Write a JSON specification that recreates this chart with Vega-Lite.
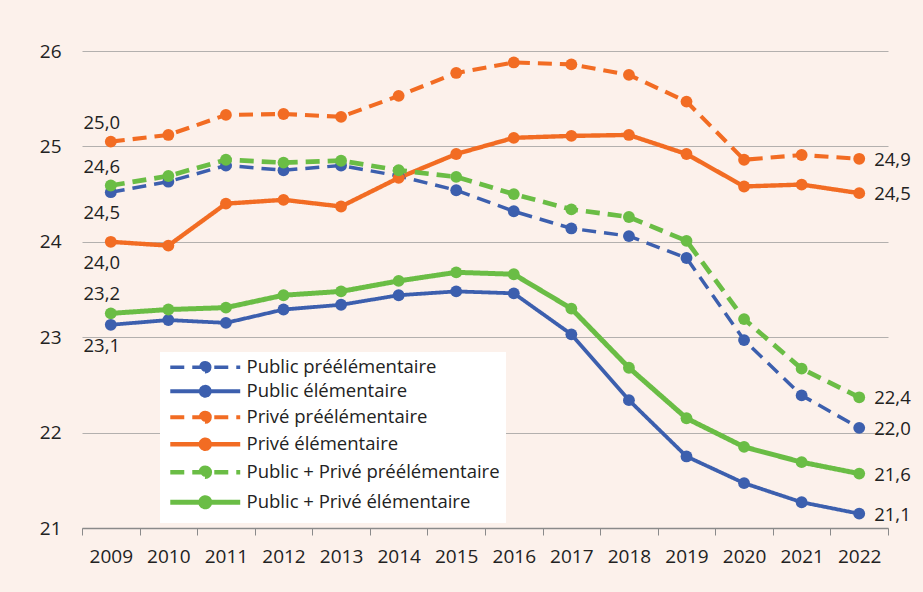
{
  "$schema": "https://vega.github.io/schema/vega-lite/v6.json",
  "width": 806,
  "height": 477,
  "autosize": {"type": "none"},
  "padding": {"left": 82, "top": 51, "right": 35, "bottom": 64},
  "background": "#FCF1EB",
  "config": {
    "view": {"stroke": null},
    "font": "Open Sans",
    "text": {"font": "Open Sans", "fontSize": 18.5, "color": "#222222"}
  },
  "data": {
    "values": [
      {"annee": 2009, "serie": "Public préélémentaire", "valeur": 24.52, "etiquette": "24,5"},
      {"annee": 2010, "serie": "Public préélémentaire", "valeur": 24.63},
      {"annee": 2011, "serie": "Public préélémentaire", "valeur": 24.80},
      {"annee": 2012, "serie": "Public préélémentaire", "valeur": 24.75},
      {"annee": 2013, "serie": "Public préélémentaire", "valeur": 24.80},
      {"annee": 2014, "serie": "Public préélémentaire", "valeur": 24.69},
      {"annee": 2015, "serie": "Public préélémentaire", "valeur": 24.54},
      {"annee": 2016, "serie": "Public préélémentaire", "valeur": 24.32},
      {"annee": 2017, "serie": "Public préélémentaire", "valeur": 24.14},
      {"annee": 2018, "serie": "Public préélémentaire", "valeur": 24.06},
      {"annee": 2019, "serie": "Public préélémentaire", "valeur": 23.83},
      {"annee": 2020, "serie": "Public préélémentaire", "valeur": 22.97},
      {"annee": 2021, "serie": "Public préélémentaire", "valeur": 22.39},
      {"annee": 2022, "serie": "Public préélémentaire", "valeur": 22.05, "etiquette": "22,0"},
      {"annee": 2009, "serie": "Public élémentaire", "valeur": 23.13, "etiquette": "23,1"},
      {"annee": 2010, "serie": "Public élémentaire", "valeur": 23.18},
      {"annee": 2011, "serie": "Public élémentaire", "valeur": 23.15},
      {"annee": 2012, "serie": "Public élémentaire", "valeur": 23.29},
      {"annee": 2013, "serie": "Public élémentaire", "valeur": 23.34},
      {"annee": 2014, "serie": "Public élémentaire", "valeur": 23.44},
      {"annee": 2015, "serie": "Public élémentaire", "valeur": 23.48},
      {"annee": 2016, "serie": "Public élémentaire", "valeur": 23.46},
      {"annee": 2017, "serie": "Public élémentaire", "valeur": 23.03},
      {"annee": 2018, "serie": "Public élémentaire", "valeur": 22.34},
      {"annee": 2019, "serie": "Public élémentaire", "valeur": 21.75},
      {"annee": 2020, "serie": "Public élémentaire", "valeur": 21.47},
      {"annee": 2021, "serie": "Public élémentaire", "valeur": 21.27},
      {"annee": 2022, "serie": "Public élémentaire", "valeur": 21.15, "etiquette": "21,1"},
      {"annee": 2009, "serie": "Privé préélémentaire", "valeur": 25.05, "etiquette": "25,0"},
      {"annee": 2010, "serie": "Privé préélémentaire", "valeur": 25.12},
      {"annee": 2011, "serie": "Privé préélémentaire", "valeur": 25.33},
      {"annee": 2012, "serie": "Privé préélémentaire", "valeur": 25.34},
      {"annee": 2013, "serie": "Privé préélémentaire", "valeur": 25.31},
      {"annee": 2014, "serie": "Privé préélémentaire", "valeur": 25.53},
      {"annee": 2015, "serie": "Privé préélémentaire", "valeur": 25.77},
      {"annee": 2016, "serie": "Privé préélémentaire", "valeur": 25.88},
      {"annee": 2017, "serie": "Privé préélémentaire", "valeur": 25.86},
      {"annee": 2018, "serie": "Privé préélémentaire", "valeur": 25.75},
      {"annee": 2019, "serie": "Privé préélémentaire", "valeur": 25.47},
      {"annee": 2020, "serie": "Privé préélémentaire", "valeur": 24.86},
      {"annee": 2021, "serie": "Privé préélémentaire", "valeur": 24.91},
      {"annee": 2022, "serie": "Privé préélémentaire", "valeur": 24.87, "etiquette": "24,9"},
      {"annee": 2009, "serie": "Privé élémentaire", "valeur": 24.00, "etiquette": "24,0"},
      {"annee": 2010, "serie": "Privé élémentaire", "valeur": 23.96},
      {"annee": 2011, "serie": "Privé élémentaire", "valeur": 24.40},
      {"annee": 2012, "serie": "Privé élémentaire", "valeur": 24.44},
      {"annee": 2013, "serie": "Privé élémentaire", "valeur": 24.37},
      {"annee": 2014, "serie": "Privé élémentaire", "valeur": 24.67},
      {"annee": 2015, "serie": "Privé élémentaire", "valeur": 24.92},
      {"annee": 2016, "serie": "Privé élémentaire", "valeur": 25.09},
      {"annee": 2017, "serie": "Privé élémentaire", "valeur": 25.11},
      {"annee": 2018, "serie": "Privé élémentaire", "valeur": 25.12},
      {"annee": 2019, "serie": "Privé élémentaire", "valeur": 24.92},
      {"annee": 2020, "serie": "Privé élémentaire", "valeur": 24.58},
      {"annee": 2021, "serie": "Privé élémentaire", "valeur": 24.60},
      {"annee": 2022, "serie": "Privé élémentaire", "valeur": 24.51, "etiquette": "24,5"},
      {"annee": 2009, "serie": "Public + Privé préélémentaire", "valeur": 24.59, "etiquette": "24,6"},
      {"annee": 2010, "serie": "Public + Privé préélémentaire", "valeur": 24.69},
      {"annee": 2011, "serie": "Public + Privé préélémentaire", "valeur": 24.86},
      {"annee": 2012, "serie": "Public + Privé préélémentaire", "valeur": 24.83},
      {"annee": 2013, "serie": "Public + Privé préélémentaire", "valeur": 24.85},
      {"annee": 2014, "serie": "Public + Privé préélémentaire", "valeur": 24.75},
      {"annee": 2015, "serie": "Public + Privé préélémentaire", "valeur": 24.68},
      {"annee": 2016, "serie": "Public + Privé préélémentaire", "valeur": 24.50},
      {"annee": 2017, "serie": "Public + Privé préélémentaire", "valeur": 24.34},
      {"annee": 2018, "serie": "Public + Privé préélémentaire", "valeur": 24.26},
      {"annee": 2019, "serie": "Public + Privé préélémentaire", "valeur": 24.01},
      {"annee": 2020, "serie": "Public + Privé préélémentaire", "valeur": 23.19},
      {"annee": 2021, "serie": "Public + Privé préélémentaire", "valeur": 22.67},
      {"annee": 2022, "serie": "Public + Privé préélémentaire", "valeur": 22.37, "etiquette": "22,4"},
      {"annee": 2009, "serie": "Public + Privé élémentaire", "valeur": 23.25, "etiquette": "23,2"},
      {"annee": 2010, "serie": "Public + Privé élémentaire", "valeur": 23.29},
      {"annee": 2011, "serie": "Public + Privé élémentaire", "valeur": 23.31},
      {"annee": 2012, "serie": "Public + Privé élémentaire", "valeur": 23.44},
      {"annee": 2013, "serie": "Public + Privé élémentaire", "valeur": 23.48},
      {"annee": 2014, "serie": "Public + Privé élémentaire", "valeur": 23.59},
      {"annee": 2015, "serie": "Public + Privé élémentaire", "valeur": 23.68},
      {"annee": 2016, "serie": "Public + Privé élémentaire", "valeur": 23.66},
      {"annee": 2017, "serie": "Public + Privé élémentaire", "valeur": 23.30},
      {"annee": 2018, "serie": "Public + Privé élémentaire", "valeur": 22.68},
      {"annee": 2019, "serie": "Public + Privé élémentaire", "valeur": 22.15},
      {"annee": 2020, "serie": "Public + Privé élémentaire", "valeur": 21.85},
      {"annee": 2021, "serie": "Public + Privé élémentaire", "valeur": 21.69},
      {"annee": 2022, "serie": "Public + Privé élémentaire", "valeur": 21.57, "etiquette": "21,6"}
    ]
  },
  "encoding": {
    "x": {
      "field": "annee",
      "type": "ordinal",
      "bandPosition": 0.5,
      "scale": {"type": "band", "paddingInner": 0, "paddingOuter": 0},
      "axis": {
        "title": null,
        "labelAngle": 0,
        "labelFontSize": 19,
        "labelColor": "#222222",
        "labelPadding": 12,
        "tickBand": "extent",
        "tickSize": 7,
        "tickColor": "#8a8a8a",
        "domainColor": "#8a8a8a",
        "domainWidth": 1.5,
        "grid": false
      }
    },
    "y": {
      "field": "valeur",
      "type": "quantitative",
      "scale": {"domain": [21, 26], "nice": false, "zero": false},
      "axis": {
        "title": null,
        "values": [21, 22, 23, 24, 25, 26],
        "labelFontSize": 19,
        "labelColor": "#222222",
        "labelPadding": 21,
        "domain": false,
        "ticks": false,
        "grid": true,
        "gridColor": "#b3b0ae",
        "gridWidth": 1.2
      }
    }
  },
  "layer": [
    {
      "mark": {"type": "line", "strokeJoin": "round"},
      "encoding": {
        "color": {
          "field": "serie",
          "type": "nominal",
          "sort": null,
          "scale": {
            "domain": ["Public préélémentaire", "Public élémentaire", "Privé préélémentaire", "Privé élémentaire", "Public + Privé préélémentaire", "Public + Privé élémentaire"],
            "range": ["#3C5FAE", "#3C5FAE", "#F26C23", "#F26C23", "#6ABD45", "#6ABD45"]
          },
          "legend": {
            "title": null,
            "orient": "none",
            "legendX": 78,
            "legendY": 301,
            "fillColor": "#FFFFFF",
            "padding": 6,
            "rowPadding": 0,
            "symbolType": "M-0.83,0L10.83,0M5,-0.75A0.75,0.75 0 1,1 5,0.75A0.75,0.75 0 1,1 5,-0.75",
            "symbolSize": 144,
            "labelOffset": 62,
            "labelLimit": 0,
            "labelFontSize": 18.5,
            "labelColor": "#222222",
            "labelFont": "Open Sans",
            "encode": {
              "symbols": {
                "update": {
                  "fill": {"scale": "color", "field": "value"},
                  "strokeWidth": {"signal": "indexof(['Public préélémentaire','Privé préélémentaire','Public + Privé préélémentaire'], datum.value) >= 0 ? 2.6 : 5"},
                  "strokeDash": {"signal": "indexof(['Public préélémentaire','Privé préélémentaire','Public + Privé préélémentaire'], datum.value) >= 0 ? [8, 5] : [1, 0]"}
                }
              }
            }
          }
        },
        "strokeDash": {
          "field": "serie",
          "type": "nominal",
          "sort": null,
          "scale": {
            "domain": ["Public préélémentaire", "Public élémentaire", "Privé préélémentaire", "Privé élémentaire", "Public + Privé préélémentaire", "Public + Privé élémentaire"],
            "range": [[14, 8], [1, 0], [14, 8], [1, 0], [14, 8], [1, 0]]
          },
          "legend": {
            "title": null,
            "orient": "none",
            "legendX": 78,
            "legendY": 301
          }
        },
        "strokeWidth": {
          "field": "serie",
          "type": "nominal",
          "sort": null,
          "scale": {
            "domain": ["Public préélémentaire", "Public élémentaire", "Privé préélémentaire", "Privé élémentaire", "Public + Privé préélémentaire", "Public + Privé élémentaire"],
            "range": [3.5, 5, 3.5, 5, 3.5, 5]
          },
          "legend": null
        }
      }
    },
    {
      "mark": {"type": "point", "shape": "circle", "filled": true, "opacity": 1, "size": 140},
      "encoding": {
        "color": {"field": "serie", "type": "nominal", "legend": null}
      }
    },
    {
      "transform": [
        {"filter": "datum.annee == 2009 && (datum.serie == 'Privé préélémentaire' || datum.serie == 'Public + Privé préélémentaire' || datum.serie == 'Public + Privé élémentaire')"}
      ],
      "mark": {"type": "text", "align": "center", "baseline": "middle", "dx": -9, "dy": -19},
      "encoding": {"text": {"field": "etiquette"}}
    },
    {
      "transform": [
        {"filter": "datum.annee == 2009 && (datum.serie == 'Public préélémentaire' || datum.serie == 'Public élémentaire' || datum.serie == 'Privé élémentaire')"}
      ],
      "mark": {"type": "text", "align": "center", "baseline": "middle", "dx": -9, "dy": 21},
      "encoding": {"text": {"field": "etiquette"}}
    },
    {
      "transform": [{"filter": "datum.annee == 2022"}],
      "mark": {"type": "text", "align": "left", "baseline": "middle", "dx": 15, "dy": 1},
      "encoding": {"text": {"field": "etiquette"}}
    }
  ]
}
